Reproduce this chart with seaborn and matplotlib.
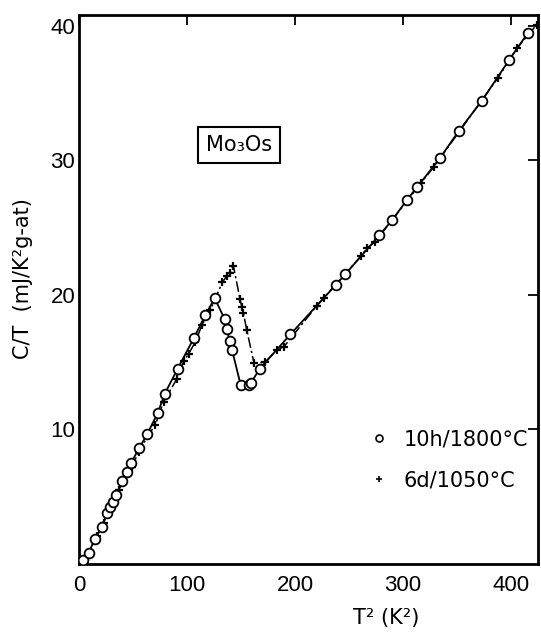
import seaborn as sns
import matplotlib.pyplot as plt
from matplotlib.lines import Line2D

sns.set_style("white")
plt.rcParams['font.family'] = ['Liberation Sans', 'DejaVu Sans']
plt.rcParams['text.color'] = 'black'
plt.rcParams['axes.labelcolor'] = 'black'

# 10h / 1800 C sample (open circles, solid line)
t2_circ = [3.4, 8.6, 14.2, 20.7, 25.6, 28.7, 31.2, 34.0, 39.5, 44.2, 48.2, 55.6, 62.7,
           72.6, 79.0, 91.0, 106.0, 116.8, 125.4, 134.7, 136.8, 139.3, 141.5, 149.5,
           156.9, 159.2, 167.0, 195.5, 238.0, 246.5, 278.0, 289.7, 303.6, 312.9, 333.9,
           351.5, 373.0, 398.5, 415.8]
ct_circ = [0.29, 0.83, 1.83, 2.77, 3.77, 4.2, 4.63, 5.11, 6.2, 6.83, 7.54, 8.63, 9.63,
           11.2, 12.63, 14.49, 16.77, 18.49, 19.75, 18.2, 17.43, 16.57, 15.91, 13.31,
           13.31, 13.48, 14.49, 17.06, 20.77, 21.54, 24.43, 25.54, 27.06, 28.0, 30.14,
           32.17, 34.43, 37.49, 39.49]

# 6d / 1050 C sample (small crosses, dash-dot line)
t2_cross = [7.1, 16.4, 22.5, 28.7, 36.4, 48.8, 55.0, 63.3, 70.4, 78.1, 90.5, 96.7, 101.3,
            107.5, 113.7, 121.4, 132.5, 136.6, 139.7, 142.7, 148.9, 150.5, 152.0, 155.1,
            161.9, 172.1, 182.9, 189.7, 220.0, 226.4, 261.3, 266.6, 273.7, 316.9, 328.3,
            388.0, 405.6, 423.6]
ct_cross = [0.49, 2.06, 3.06, 4.29, 5.49, 7.2, 8.34, 9.49, 10.34, 12.06, 13.77, 15.06, 15.63,
            16.49, 17.77, 18.86, 20.94, 21.4, 21.66, 22.18, 19.68, 19.13, 18.64, 17.4,
            14.92, 15.0, 15.9, 16.16, 19.18, 19.77, 22.91, 23.49, 23.91, 28.34, 29.49,
            36.14, 38.34, 40.06]

x_ticks = [0, 100, 200, 300, 400]
y_ticks = [10, 20, 30, 40]

font_size = 15
wide = ['DejaVu Sans']

fig = plt.figure(figsize=(5.41, 6.32), dpi=100)
ax = fig.add_axes([0.1466, 0.1076, 0.8479, 0.8687])

sns.lineplot(ax=ax, x=t2_cross, y=ct_cross, sort=False, estimator=None, color="black",
             linewidth=1.1, linestyle=(0, (7, 2, 1.5, 2)), marker="+", markersize=6,
             markeredgewidth=1.6, markeredgecolor="black", zorder=2)
sns.lineplot(ax=ax, x=t2_circ, y=ct_circ, sort=False, estimator=None, color="black",
             linewidth=1.3, marker="o", markersize=7, markerfacecolor="white",
             markeredgecolor="black", markeredgewidth=1.3, zorder=3)

ax.set_xlim(0, 425)
ax.set_ylim(0, 40.8)
ax.set_xticks(x_ticks)
ax.set_yticks(y_ticks)
ax.tick_params(direction="in", top=True, right=True, length=7, width=1.3,
               labelsize=16, colors="black")
ax.tick_params(axis="x", pad=8)
ax.tick_params(axis="y", pad=3)
for s in ax.spines.values():
    s.set_linewidth(2)
    s.set_color("black")

ax.set_xlabel("T² (K²)", fontsize=font_size, family=wide)
ax.xaxis.set_label_coords(0.67, -0.08)
ax.set_ylabel("C/T  (mJ/K²g-at)", fontsize=font_size, family=wide)
ax.yaxis.set_label_coords(-0.1, 0.52)

ax.text(0.348, 0.763, "Mo₃Os", transform=ax.transAxes, fontsize=font_size, family=wide,
        ha="center", va="center",
        bbox=dict(boxstyle="square,pad=0.4", facecolor="white", edgecolor="black", linewidth=1.5))

handles = [Line2D([], [], linestyle="none", marker="o", markersize=5, markerfacecolor="white",
                  markeredgecolor="black", markeredgewidth=1.2),
           Line2D([], [], linestyle="none", marker="+", markersize=4, markeredgewidth=1.2,
                  color="black")]
ax.legend(handles, ["10h/1800°C", "6d/1050°C"], loc="center right",
          bbox_to_anchor=(1.02, 0.19), frameon=False, prop={"family": wide, "size": font_size},
          handlelength=0.8, handletextpad=0.8, labelspacing=1.0)

fig.savefig("out.png", dpi=100)
